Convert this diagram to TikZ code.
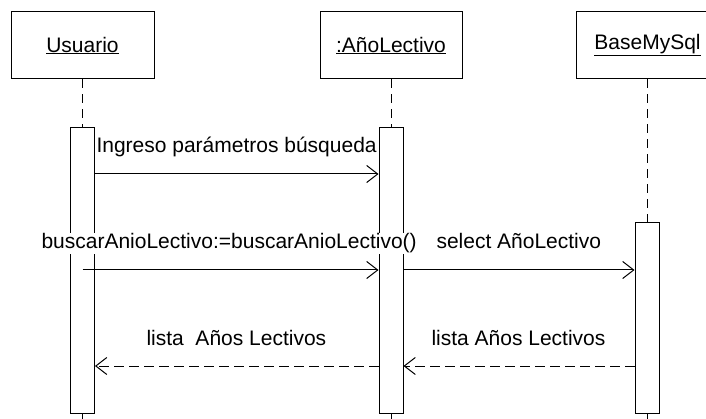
\documentclass[tikz,border=0pt]{standalone}
\usepackage{fontspec}
\setmainfont{Liberation Sans}
\usetikzlibrary{arrows.meta,calc,positioning}

\tikzset{
  objbox/.style={draw, minimum width=143pt, minimum height=67pt, inner sep=0pt},
  actbox/.style={draw, fill=white, minimum width=24pt, inner sep=0pt, anchor=north},
  lifeline/.style={dash pattern=on 9pt off 6pt},
  msg/.style={-{Straight Barb[length=11pt,width=17pt]}},
  ret/.style={msg, dash pattern=on 10pt off 5pt},
  msglabel/.style={fill=white, inner sep=1pt, anchor=base west}
}

\begin{document}
\begin{tikzpicture}[x=1pt,y=-1pt,line width=1pt,font=\fontsize{21}{25}\selectfont]
\useasboundingbox (0,0) rectangle (706,419);
\clip (0,0) rectangle (706,419);
% objetos
\node[objbox] (usr) at (82.5,45.5) {\underline{Usuario}};
\node[objbox,minimum width=142pt] (anio) at (391,45.5) {\underline{:AñoLectivo}};
\node[objbox] (bd) at (647.5,45.5) {\underline{BaseMySql}};
% lineas de vida y activaciones
\draw[lifeline] (usr.south) -- ++(0,60);
\draw[lifeline] (anio.south) -- ++(0,60);
\draw[lifeline] (bd.south) -- ++(0,150);
\node[actbox,minimum height=286pt] (act-usr) at (82.5,127) {};
\node[actbox,minimum height=286pt] (act-anio) at (391,127) {};
\node[actbox,minimum height=191pt] (act-bd) at (647,222) {};
\foreach \o in {usr,anio,bd} {\draw[lifeline] (act-\o.south) -- ++(0,20);}
% mensajes
\coordinate (m1) at (0,174);
\coordinate (m2) at (0,270);
\coordinate (m3) at (0,366);
\draw[msg] (act-usr.east |- m1) -- (act-anio.west |- m1);
\draw[msg] (act-usr |- m2) -- (act-anio.west |- m2);
\draw[msg] (act-anio.east |- m2) -- (act-bd.west |- m2);
\draw[ret] (act-bd.west |- m3) -- (act-anio.east |- m3);
\draw[ret] (act-anio.west |- m3) -- (act-usr.east |- m3);
\node[msglabel] (ingreso) at (95,153) {Ingreso parámetros búsqueda};
\node[msglabel] (buscar) at (40,249) {buscarAnioLectivo:=buscarAnioLectivo()};
\node[msglabel] (select) at (435,249) {select AñoLectivo};
\node[msglabel] (lista-bd) at (430,345) {lista Años Lectivos};
\node[msglabel] (lista-usr) at (145,345) {lista\ \ Años Lectivos};
\end{tikzpicture}
\end{document}
